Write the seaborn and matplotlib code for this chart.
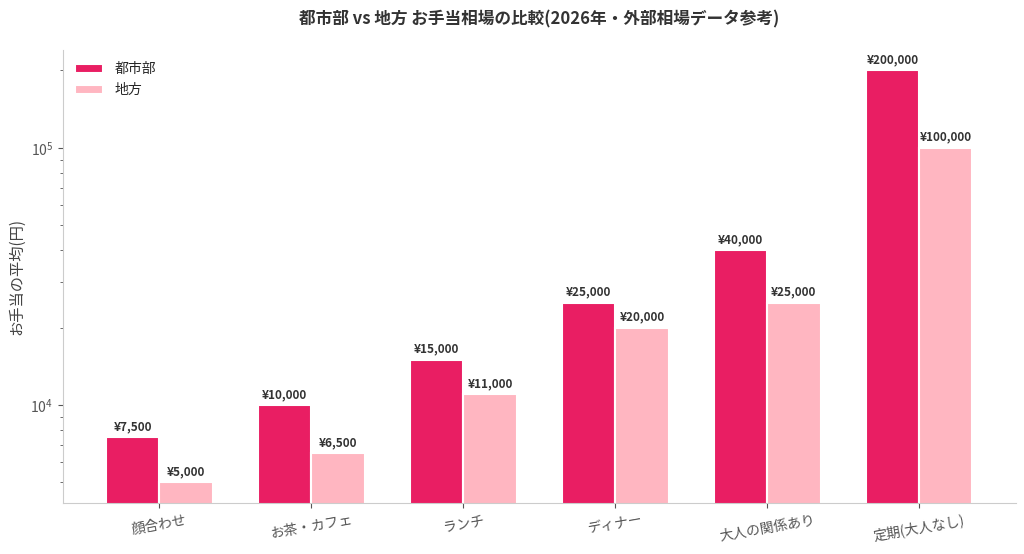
import numpy as np
import pandas as pd
import matplotlib
matplotlib.use('Agg')
import matplotlib.pyplot as plt
import seaborn as sns

# Data
categories = ['顔合わせ', 'お茶・カフェ', 'ランチ', 'ディナー', '大人の関係あり', '定期(大人なし)']
urban = [7500, 10000, 15000, 25000, 40000, 200000]
rural = [5000, 6500, 11000, 20000, 25000, 100000]
series = ['都市部', '地方']
colors = ['#E91E63', '#FFB6C1']

df = pd.DataFrame({
    '場面': categories * 2,
    '地域': [series[0]] * len(categories) + [series[1]] * len(categories),
    '金額': urban + rural,
})

sns.set_style('ticks')
plt.rcParams['font.family'] = ['Noto Sans CJK JP', 'DejaVu Sans']

fig, ax = plt.subplots(figsize=(10.24, 5.54), dpi=100)
fig.subplots_adjust(left=0.0615, right=0.992, bottom=0.092, top=0.91)

sns.barplot(data=df, x='場面', y='金額', hue='地域', palette=colors, saturation=1,
            width=0.7, edgecolor='white', linewidth=1.5, ax=ax)
ax.set_yscale('log')

# log-space margins like matplotlib autoscale
lo, hi = np.log10(min(rural)), np.log10(max(urban))
m = 0.05 * (hi - lo)
ax.set_ylim(10 ** (lo - m), 10 ** (hi + m))
n = len(categories)
ax.set_xlim(-0.35 - 0.285, n - 1 + 0.35 + 0.285)

for cont in ax.containers:
    ax.bar_label(cont, labels=[f'¥{v:,.0f}' for v in cont.datavalues],
                 padding=3, fontsize=8.5, fontweight='bold', color='#333333')

ax.set_title('都市部 vs 地方 お手当相場の比較(2026年・外部相場データ参考)',
             fontsize=12, fontweight='bold', color='#333333', pad=18)
ax.set_xlabel('')
ax.set_ylabel('お手当の平均(円)', fontsize=11, color='#444444')
plt.setp(ax.get_xticklabels(), rotation=10, fontsize=10, color='#444444')
plt.setp(ax.get_yticklabels(), fontsize=10, color='#444444')

sns.despine(ax=ax)
for s in ['left', 'bottom']:
    ax.spines[s].set_color('#cccccc')
ax.tick_params(axis='both', which='both', colors='#555555')
ax.tick_params(axis='y', which='minor', length=2.5)

leg = ax.legend(loc='upper left', frameon=False, fontsize=10)
leg.set_title(None)

fig.savefig('out.png', dpi=100)
